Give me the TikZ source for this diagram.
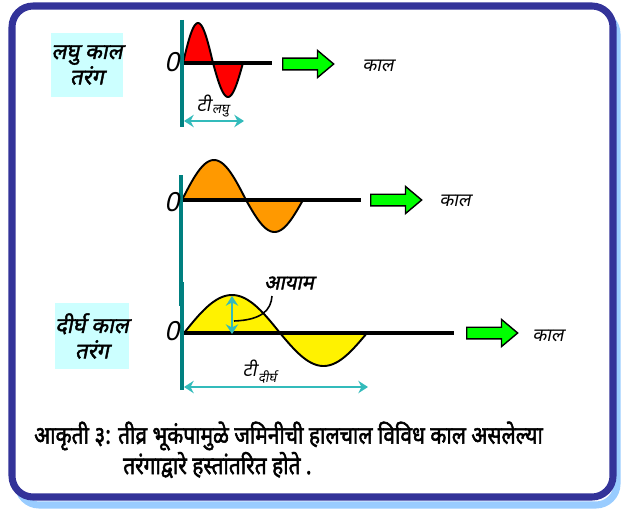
\documentclass[tikz,border=0pt]{standalone}
\usepackage{fontspec}
\newfontfamily\devfont[Script=Devanagari,FakeBold=2.2]{Noto Sans}
\newfontfamily\devslant[Script=Devanagari,FakeSlant=0.2]{Noto Sans}
\newfontfamily\devboldslant[Script=Devanagari,FakeSlant=0.2,FakeBold=1.8]{Noto Sans}
\usetikzlibrary{arrows.meta,shapes.arrows}
\definecolor{framec}{HTML}{333399}
\definecolor{shadowc}{HTML}{99CCFF}
\definecolor{labelbg}{HTML}{CCFFFF}
\definecolor{axisc}{HTML}{008080}
\definecolor{spanc}{HTML}{33BBBB}
\definecolor{waveorange}{HTML}{FF9900}

\begin{document}
\begin{tikzpicture}[
  x=0.02cm, y=-0.02cm,
  axis/.style={draw=axisc, line width=2.3pt},
  base/.style={draw=black, line width=2.4pt},
  wave/.style={draw=black, line width=1.1pt},
  span/.style={draw=spanc, line width=1.5pt, {Stealth[length=5.5pt,width=7pt]}-{Stealth[length=5.5pt,width=7pt]}},
  timearrow/.style={single arrow, draw=black, fill=green, line width=0.8pt, minimum height=29pt, inner xsep=0pt, inner ysep=2.9pt, single arrow head extend=4.4pt, single arrow tip angle=80, anchor=west},
  kind/.style={fill=labelbg, inner sep=0pt, align=center, font=\devboldslant\fontsize{12.5}{14.5}\selectfont},
  timelabel/.style={font=\devslant\fontsize{10.5}{12}\selectfont},
  sublabel/.style={font=\devslant\fontsize{7.5}{8}\selectfont, inner sep=0pt, anchor=west},
  zero/.style={font=\devslant\fontsize{15}{16}\selectfont},
  caption/.style={anchor=west, font=\devfont\fontsize{14}{16}\selectfont},
]
\useasboundingbox (0,0) rectangle (621,510);
% frame
\draw[shadowc, line width=4pt, rounded corners=12pt] (18,13) rectangle (617,505);
\draw[framec, fill=white, line width=4pt, rounded corners=12pt] (12,6) rectangle (613,497);

% short period wave
\node[kind, minimum width=39.7pt, minimum height=36.3pt] (shortkind) at (87,65) {लघु काल\\तरंग};
\coordinate (axA1) at (182,20);
\coordinate (axA2) at (182,127);
\coordinate (baseA1) at (182,63);
\coordinate (baseA2) at (272,63);
\filldraw[wave, fill=red] (183,63) -- plot[variable=\t, domain=0:180, samples=40] ({183+\t/180*30}, {63-40*sin(\t)}) -- cycle;
\filldraw[wave, fill=red] (213,63) -- plot[variable=\t, domain=0:180, samples=40] ({213+\t/180*30}, {63+34*sin(\t)}) -- cycle;
\draw[base] (baseA1) -- (baseA2);
\draw[axis] (axA1) -- (axA2);
\node[zero] (zeroA) at (172,62) {0};
\node[timearrow] (arrA) at (282,64) {};
\node[timelabel] (timeA) at (378,66) {काल};
\coordinate (spanA1) at (184,121);
\coordinate (spanA2) at (244,121);
\draw[span] (spanA1) -- (spanA2);
\node[timelabel, inner sep=0pt, anchor=east] (periodA) at (211,103) {टी};
\node[sublabel] (periodAsub) at ([xshift=0.5pt]periodA.south east) {लघु};

% middle wave
\coordinate (axB1) at (181,175);
\coordinate (axB2) at (181,306);
\coordinate (baseB1) at (181,200);
\coordinate (baseB2) at (361,200);
\filldraw[wave, fill=waveorange] (182,200) -- plot[variable=\t, domain=0:180, samples=40] ({182+\t/180*64}, {200-40*sin(\t)}) -- cycle;
\filldraw[wave, fill=waveorange] (246,200) -- plot[variable=\t, domain=0:180, samples=40] ({246+\t/180*57}, {200+32*sin(\t)}) -- cycle;
\draw[base] (baseB1) -- (baseB2);
\draw[axis] (axB1) -- (axB2);
\node[zero] (zeroB) at (172,202) {0};
\node[timearrow] (arrB) at (370,200) {};
\node[timelabel] (timeB) at (455,201) {काल};

% long period wave
\node[kind, minimum width=36.9pt, minimum height=37.4pt] (longkind) at (92,336) {दीर्घ काल\\तरंग};
\coordinate (axC1) at (182,282);
\coordinate (axC2) at (182,390);
\coordinate (baseC1) at (182,333);
\coordinate (baseC2) at (454,333);
\filldraw[wave, fill=yellow] (184,333) -- plot[variable=\t, domain=0:180, samples=40] ({184+\t/180*96}, {333-38*sin(\t)}) -- cycle;
\filldraw[wave, fill=yellow] (280,333) -- plot[variable=\t, domain=0:180, samples=40] ({280+\t/180*87}, {333+33*sin(\t)}) -- cycle;
\draw[base] (baseC1) -- (baseC2);
\draw[axis] (axC1) -- (axC2);
\node[zero] (zeroC) at (172,331) {0};
\node[timearrow] (arrC) at (466,333) {};
\node[timelabel] (timeC) at (548,336) {काल};
\coordinate (ampTop) at (232,296);
\coordinate (ampBot) at (232,334);
\draw[span] (ampTop) -- (ampBot);
\node[font=\devboldslant\fontsize{11.5}{12}\selectfont] (amp) at (289,283) {आयाम};
\coordinate (ampTip) at (234,321);
\draw[line width=0.9pt] (272,296) .. controls (271,310) and (262,320) .. (ampTip);
\coordinate (spanC1) at (184,387);
\coordinate (spanC2) at (368,387);
\draw[span] (spanC1) -- (spanC2);
\node[timelabel, inner sep=0pt, anchor=east] (periodC) at (257,368) {टी};
\node[sublabel] (periodCsub) at ([xshift=0.5pt]periodC.south east) {दीर्घ};

% caption
\node[caption] (cap1) at (28,436) {\scalebox{0.85}[1]{आकृती ३: तीव्र भूकंपामुळे जमिनीची हालचाल विविध काल असलेल्या}};
\node[caption] (cap2) at (117,465) {\scalebox{0.85}[1]{तरंगाद्वारे हस्तांतरित होते .}};
\end{tikzpicture}
\end{document}
